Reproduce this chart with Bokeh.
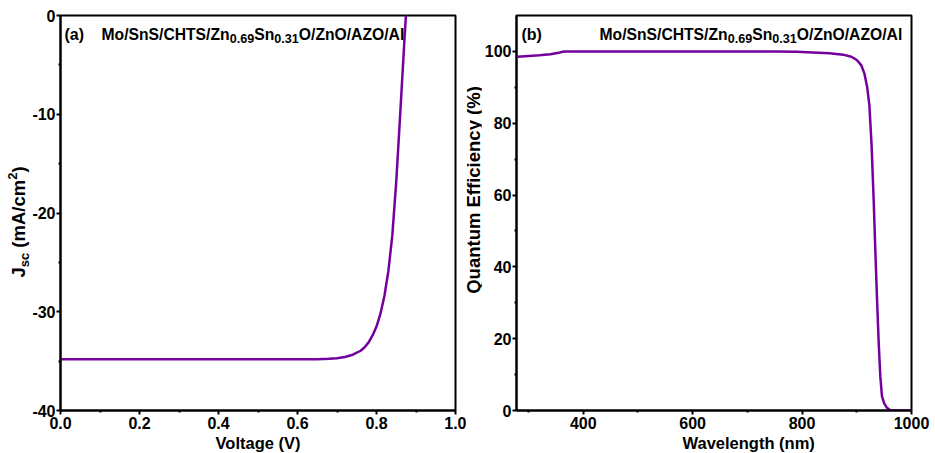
import math
from bokeh.plotting import figure
from bokeh.layouts import row
from bokeh.models import Label, FixedTicker, Range1d, Title, Div
from bokeh.embed import file_html
from bokeh.resources import INLINE

# ---------------- data ----------------
voltage = [0.0, 0.1, 0.2, 0.3, 0.4, 0.5, 0.6, 0.65, 0.68, 0.70, 0.72, 0.74, 0.76,
           0.77, 0.78, 0.79, 0.80, 0.81, 0.82, 0.83, 0.84, 0.85, 0.86, 0.865, 0.87, 0.875]
jsc = [-34.8, -34.8, -34.8, -34.8, -34.8, -34.8, -34.8, -34.8, -34.76, -34.7, -34.58, -34.35,
       -33.95, -33.6, -33.1, -32.4, -31.5, -30.2, -28.4, -25.9, -22.3, -16.8, -10.0, -6.5,
       -3.0, 0.4]

wavelength = [280, 300, 320, 340, 355, 362, 368, 380, 450, 550, 650, 750, 790, 820, 850,
              875, 890, 900, 908, 914, 919, 923, 927, 931, 934, 937, 940, 943, 946, 950,
              955, 962, 1000]
quantum_eff = [98.5, 98.7, 98.9, 99.2, 99.6, 99.9, 100.0, 100.0, 100.0, 100.0, 100.0, 100.0,
               99.9, 99.7, 99.5, 99.1, 98.5, 97.6, 96.2, 93.8, 90.0, 85.0, 74.0, 58.0, 44.0,
               31.0, 19.0, 9.5, 4.0, 2.0, 0.8, 0.0, 0.0]

jv_x_ticks = [0.0, 0.2, 0.4, 0.6, 0.8, 1.0]
jv_x_minor = [0.1, 0.3, 0.5, 0.7, 0.9]
jv_y_ticks = [-40, -30, -20, -10, 0]
jv_y_minor = [-35, -25, -15, -5]
qe_x_ticks = [400, 600, 800, 1000]
qe_x_minor = [300, 500, 700, 900]
qe_y_ticks = [0, 20, 40, 60, 80, 100]
qe_y_minor = [10, 30, 50, 70, 90]

panel_a = "(a)"
panel_b = "(b)"
device_parts = ["Mo/SnS/CHTS/Zn", "0.69", "Sn", "0.31", "O/ZnO/AZO/Al"]
jv_xlabel = "Voltage (V)"
jv_ylabel_parts = ["J", "sc", " (mA/cm", "2", ")"]
qe_xlabel = "Wavelength (nm)"
qe_ylabel = "Quantum Efficiency (%)"

# ---------------- style ----------------
FONT = "Liberation Sans"
PURPLE = "#74009e"

ADV = {' ': 278, '(': 333, ')': 333, '%': 889, '.': 278, '/': 278, 'A': 722, 'C': 722,
       'E': 667, 'H': 722, 'M': 833, 'O': 778, 'Q': 778, 'S': 667, 'T': 611, 'Z': 611,
       'J': 556, 'V': 667, 'W': 944, 'a': 556, 'b': 611, 'c': 556, 'e': 556, 'f': 333,
       'g': 611, 'h': 611, 'i': 278, 'l': 278, 'm': 889, 'n': 611, 'o': 611, 's': 556,
       't': 333, 'u': 611, 'v': 556, 'y': 556}


def tw(s, size):
    return sum(ADV.get(c, 556) for c in s) * size / 1000.0


def make_fig(width, xr, yr, left, right):
    p = figure(width=width, height=453, x_range=Range1d(*xr), y_range=Range1d(*yr),
               output_backend="svg", toolbar_location=None,
               min_border_left=left, min_border_right=right,
               min_border_top=15, min_border_bottom=43)
    p.grid.visible = False
    p.outline_line_color = "black"
    p.outline_line_width = 2
    p.outline_line_alpha = 1
    for ax in (p.xaxis[0], p.yaxis[0]):
        ax.axis_line_width = 2
        ax.axis_line_color = "black"
        ax.major_tick_in = 0
        ax.major_tick_out = 4
        ax.minor_tick_in = 0
        ax.minor_tick_out = 2
        ax.major_tick_line_width = 2
        ax.minor_tick_line_width = 2
        ax.major_tick_line_color = "black"
        ax.minor_tick_line_color = "black"
        ax.major_label_text_font = FONT
        ax.major_label_text_font_style = "bold"
        ax.major_label_text_font_size = "16px"
        ax.major_label_text_color = "black"
    p.xaxis[0].major_label_standoff = 2
    p.yaxis[0].major_label_standoff = 1
    return p


def xlabel_title(text, align, offset):
    return Title(text=text, align=align, offset=offset, standoff=0,
                 text_font=FONT, text_font_style="bold", text_font_size="16.5px",
                 text_color="black")


class Placer:
    def __init__(self, p, ox, fl, fb):
        self.p, self.ox, self.fl, self.fb = p, ox, fl, fb

    def put(self, wx, wy, text, size):
        self.p.add_layout(Label(x=wx - self.ox - self.fl, y=self.fb - wy,
                                x_units="screen", y_units="screen", text=text,
                                text_align="left", text_baseline="alphabetic",
                                text_font=FONT, text_font_style="bold",
                                text_font_size=f"{size}px", text_color="black"))

    def hseq(self, wx, wy, pieces):
        for text, size, dy in pieces:
            self.put(wx, wy + dy, text, size)
            wx += tw(text, size)


MAIN, SUB = 15.7, 12.6
title_pieces = [(device_parts[0], MAIN, 0), (device_parts[1], SUB, 3.5),
                (device_parts[2], MAIN, 0), (device_parts[3], SUB, 3.5),
                (device_parts[4], MAIN, 0)]

# ---------------- rotated y labels (HTML text) ----------------
def vlabel_div(width, html, x, y_bottom, size):
    inner = (f'<span style="display:inline-block;white-space:nowrap;transform-origin:0 0;'
             f'transform:translate({x}px,{y_bottom}px) rotate(-90deg);'
             f"font-family:'{FONT}';font-weight:bold;font-size:{size}px;line-height:1;"
             f'color:#000;">{html}</span>')
    return Div(text=inner, width=width, height=453, margin=0,
               styles={"overflow": "visible", "padding": "0", "margin": "0"})


SZ_A, SZ_A_SUB = 18.5, 13
len_a = (tw(jv_ylabel_parts[0], SZ_A) + tw(jv_ylabel_parts[1], SZ_A_SUB)
         + tw(jv_ylabel_parts[2], SZ_A) + tw(jv_ylabel_parts[3], SZ_A_SUB)
         + tw(jv_ylabel_parts[4], SZ_A))
html_a = (f'{jv_ylabel_parts[0]}'
          f'<span style="font-size:{SZ_A_SUB}px;position:relative;top:4px;">{jv_ylabel_parts[1]}</span>'
          f'{jv_ylabel_parts[2]}'
          f'<span style="font-size:{SZ_A_SUB}px;position:relative;top:-8px;">{jv_ylabel_parts[3]}</span>'
          f'{jv_ylabel_parts[4]}')
div_a = vlabel_div(29, html_a, 10, round(222 + len_a / 2, 1), SZ_A)

SZ_B = 18.5
len_b = tw(qe_ylabel, SZ_B)
div_b = vlabel_div(15, qe_ylabel, -1, round(190 + len_b / 2, 1), SZ_B)

# ---------------- panel (a) ----------------
p1 = make_fig(437, (0.0, 1.0), (-40, 0), 29, 11)
p1.xaxis[0].ticker = FixedTicker(ticks=jv_x_ticks, minor_ticks=jv_x_minor)
p1.yaxis[0].ticker = FixedTicker(ticks=jv_y_ticks, minor_ticks=jv_y_minor)
p1.xaxis[0].major_label_overrides = {t: f"{t:.1f}" for t in jv_x_ticks}
p1.yaxis[0].major_label_overrides = {t: f"{t}" for t in jv_y_ticks}
p1.line(voltage, jsc, line_color=PURPLE, line_width=2.5)
p1.add_layout(xlabel_title(jv_xlabel, "center", 0), "below")

a = Placer(p1, 29, 29, 410)
a.put(62, 34, panel_a, 16)
a.hseq(99, 34, title_pieces)

# ---------------- panel (b) ----------------
p2 = make_fig(454, (278, 1000), (0, 110), 32, 24)
p2.xaxis[0].ticker = FixedTicker(ticks=qe_x_ticks, minor_ticks=qe_x_minor)
p2.yaxis[0].ticker = FixedTicker(ticks=qe_y_ticks, minor_ticks=qe_y_minor)
p2.line(wavelength, quantum_eff, line_color=PURPLE, line_width=2.5)
p2.add_layout(xlabel_title(qe_xlabel, "left", 166), "below")

b = Placer(p2, 481, 32, 410)
b.put(518, 34, panel_b, 16)
b.hseq(596, 34, title_pieces)

layout = row(div_a, p1, div_b, p2, spacing=0)
open("out.html", "w").write(file_html(layout, INLINE))
